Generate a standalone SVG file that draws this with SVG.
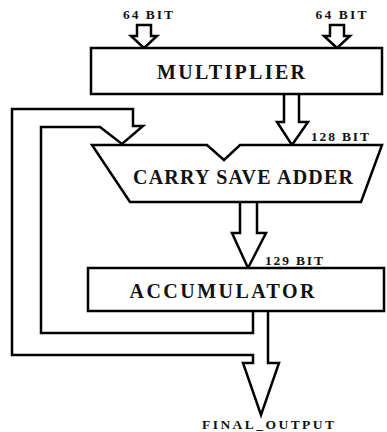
<svg xmlns="http://www.w3.org/2000/svg" width="387" height="432" viewBox="0 0 387 432">
<style>
.box{fill:#fff;stroke:#000;stroke-width:2.5;stroke-linejoin:miter}
.wire{fill:none;stroke:#000;stroke-width:2.5;stroke-linejoin:miter}
.big{font-family:"Liberation Serif","Times New Roman",serif;font-weight:bold;font-size:20px;fill:#111}
.small{font-family:"Liberation Serif","Times New Roman",serif;font-weight:bold;font-size:13.5px;fill:#111}
</style>
<rect width="387" height="432" fill="#fff"/>
<g id="connectors">
<path class="wire" d="M137,25 L151,25 L151,36 L157,36 L144,48 L131,36 L137,36 Z"/>
<path class="wire" d="M330,25 L344,25 L344,36 L350,36 L337,48 L324,36 L330,36 Z"/>
<path class="wire" d="M284,94 L284,122 L277,122 L292,145 L308,122 L299,122 L299,94"/>
<path class="wire" d="M240,203 L240,233 L232,233 L248,268 L266,233 L257,233 L257,203"/>
<path class="wire" d="M268,311 L268,363 L279,363 L261,415 L243,363 L253,363 L253,355 L12,355 L12,109 L133,109 L133,126 L143,126 L122,144 L100,127 L41,127 L41,333 L253,333 L253,311"/>
</g>
<g id="multiplier">
<rect class="box" x="91" y="48" width="291" height="46"/>
<text class="big" x="231" y="79" text-anchor="middle" textLength="148" lengthAdjust="spacing">MULTIPLIER</text>
</g>
<g id="csa">
<path class="box" d="M92,145 L207,145 L224,160 L240,145 L382,145 L361,202 L130,202 Z"/>
<text class="big" x="243" y="184" text-anchor="middle" font-size="21" textLength="220" lengthAdjust="spacing">CARRY SAVE ADDER</text>
</g>
<g id="accumulator">
<rect class="box" x="88" y="268" width="296" height="43"/>
<text class="big" x="222" y="298" text-anchor="middle" textLength="185" lengthAdjust="spacing">ACCUMULATOR</text>
</g>
<g id="labels">
<text class="small" x="148" y="19" text-anchor="middle" textLength="50" lengthAdjust="spacing">64 BIT</text>
<text class="small" x="341" y="19" text-anchor="middle" textLength="51" lengthAdjust="spacing">64 BIT</text>
<text class="small" x="340" y="141" text-anchor="middle" textLength="58" lengthAdjust="spacing">128 BIT</text>
<text class="small" x="294" y="265" text-anchor="middle" textLength="58" lengthAdjust="spacing">129 BIT</text>
<text class="small" x="268" y="429" text-anchor="middle" textLength="132" lengthAdjust="spacing">FINAL_OUTPUT</text>
</g>
</svg>
